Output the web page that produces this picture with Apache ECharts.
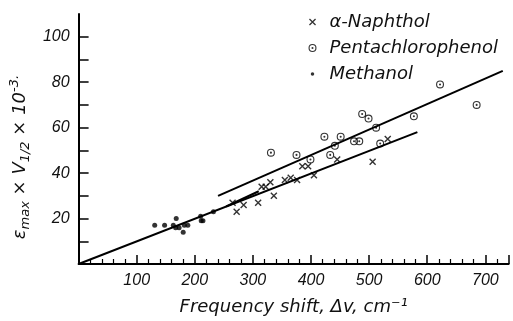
<!DOCTYPE html>
<html>
<head>
<meta charset="utf-8">
<script src="https://cdn.jsdelivr.net/npm/echarts@6/dist/echarts.min.js"></script>
<style>
  html, body { margin: 0; padding: 0; background: #fff; }
  #chart { width: 513px; height: 321px; }
</style>
</head>
<body>
<div id="chart"></div>
<script>
// values: [frequency shift, eps*v1/2*1e-3]
var naphthol = [
  [265, 27], [272, 23], [284, 26], [309, 27], [315, 34], [322, 34],
  [330, 36], [336, 30], [355, 37], [365, 38], [376, 37], [385, 43],
  [395, 43], [405, 39], [445, 46], [506, 45], [532, 55]
];
var pentachlorophenol = [
  [331, 49], [375, 48], [399, 46], [423, 56], [433, 48], [441, 52],
  [451, 56], [474, 54], [483, 54], [488, 66], [499, 64], [512, 60],
  [519, 53], [577, 65], [622, 79], [685, 70]
];
var methanol = [
  [131, 17], [148, 17], [163, 17], [167, 16], [168, 20], [173, 16],
  [180, 14], [182, 17], [188, 17], [210, 21], [211, 19], [214, 19], [232, 23]
];
// fitted lines
var fitMain = [[0, 0], [583, 58]];
var fitUpper = [[240, 30], [730, 85]];
var fitShort = [[254, 25.3], [310, 32]];

var yTicks = [10, 20, 30, 40, 50, 60, 70, 80, 90, 100];
var yLabels = [20, 40, 60, 80, 100];

var font = 'Liberation Sans';
var wideFont = 'DejaVu Sans';
var crossPath = 'path://M0 0 L10 10 M10 0 L0 10';
var ringPath = 'path://M0 -5 A5 5 0 1 1 0 5 A5 5 0 1 1 0 -5 Z ' +
  'M0 -3.6 A3.6 3.6 0 1 0 0 3.6 A3.6 3.6 0 1 0 0 -3.6 Z ' +
  'M0 -1.3 A1.3 1.3 0 1 1 0 1.3 A1.3 1.3 0 1 1 0 -1.3 Z';
// small marks inside a bigger (invisible) box, for the legend
var dotIcon = 'path://M-5 -5 L-5 -5 M5 5 L5 5 M0 -2.2 A2.2 2.2 0 1 1 0 2.2 A2.2 2.2 0 1 1 0 -2.2 Z';
var crossIcon = 'path://M0 0 L0 0 M10 10 L10 10 M1.2 1.2 L8.8 8.8 M8.8 1.2 L1.2 8.8';

var chart = echarts.init(document.getElementById('chart'));

function fitLine(data) {
  return {
    type: 'line',
    data: data,
    symbol: 'none',
    silent: true,
    lineStyle: { color: '#000', width: 2 },
    z: 1
  };
}

var option = {
  backgroundColor: '#ffffff',
  animation: false,
  grid: { left: 72, right: 4.4, top: 14, bottom: 48 },
  legend: {
    orient: 'vertical',
    left: 301,
    top: 8,
    itemWidth: 24,
    itemHeight: 8,
    itemGap: 8,
    textStyle: {
      fontFamily: wideFont, fontStyle: 'italic', fontSize: 18, color: '#111', lineHeight: 18
    },
    data: [
      { name: 'α-Naphthol', icon: crossIcon,
        itemStyle: { color: 'none', borderColor: '#000', borderWidth: 1.3 } },
      { name: 'Pentachlorophenol', icon: ringPath },
      { name: 'Methanol', icon: dotIcon }
    ]
  },
  xAxis: {
    type: 'value',
    min: 0,
    max: 740,
    interval: 100,
    name: 'Frequency shift, Δv, cm⁻¹',
    nameLocation: 'middle',
    nameGap: 34,
    nameTextStyle: { fontFamily: wideFont, fontStyle: 'italic', fontSize: 18, color: '#111' },
    axisLine: { onZero: false, lineStyle: { color: '#000', width: 2 } },
    axisTick: { inside: true, length: 9, lineStyle: { color: '#000', width: 1.5 } },
    minorTick: { show: true, splitNumber: 5, length: 5, lineStyle: { color: '#000', width: 1.2 } },
    splitLine: { show: false },
    axisLabel: {
      margin: 9,
      fontFamily: font, fontStyle: 'italic', fontSize: 16, color: '#111',
      formatter: function (v) { return v === 0 ? '' : v; }
    }
  },
  yAxis: {
    type: 'value',
    min: 0,
    max: 110,
    name: '{t|ε}{s|max}{t| × V}{s|1/2}{t| × 10}{p|-3.}',
    nameLocation: 'middle',
    nameGap: 30,
    nameTextStyle: {
      fontFamily: wideFont, fontStyle: 'italic', fontSize: 18, color: '#111',
      padding: [0, 36, 0, 0],
      rich: {
        t: { fontFamily: wideFont, fontStyle: 'italic', fontSize: 18, color: '#111', lineHeight: 24, verticalAlign: 'middle' },
        s: { fontFamily: wideFont, fontStyle: 'italic', fontSize: 13, color: '#111', lineHeight: 24, verticalAlign: 'bottom' },
        p: { fontFamily: wideFont, fontStyle: 'italic', fontSize: 13, color: '#111', lineHeight: 24, verticalAlign: 'top' }
      }
    },
    axisLine: { onZero: false, lineStyle: { color: '#000', width: 2 } },
    axisTick: { inside: true, length: 10, customValues: yTicks, lineStyle: { color: '#000', width: 1.5 } },
    splitLine: { show: false },
    axisLabel: {
      margin: 9,
      customValues: yLabels,
      fontFamily: font, fontStyle: 'italic', fontSize: 16, color: '#111'
    }
  },
  series: [
    fitLine(fitMain),
    fitLine(fitUpper),
    fitLine(fitShort),
    {
      name: 'α-Naphthol',
      type: 'scatter',
      data: naphthol,
      symbol: crossPath,
      symbolSize: 6,
      itemStyle: { color: 'none', borderColor: '#000', borderWidth: 1.4 },
      z: 3
    },
    {
      name: 'Pentachlorophenol',
      type: 'scatter',
      data: pentachlorophenol,
      symbol: ringPath,
      symbolSize: 8,
      itemStyle: { color: '#000' },
      z: 3
    },
    {
      name: 'Methanol',
      type: 'scatter',
      data: methanol,
      symbol: 'circle',
      symbolSize: 5,
      itemStyle: { color: '#000' },
      z: 3
    }
  ]
};

chart.setOption(option);
</script>
</body>
</html>
